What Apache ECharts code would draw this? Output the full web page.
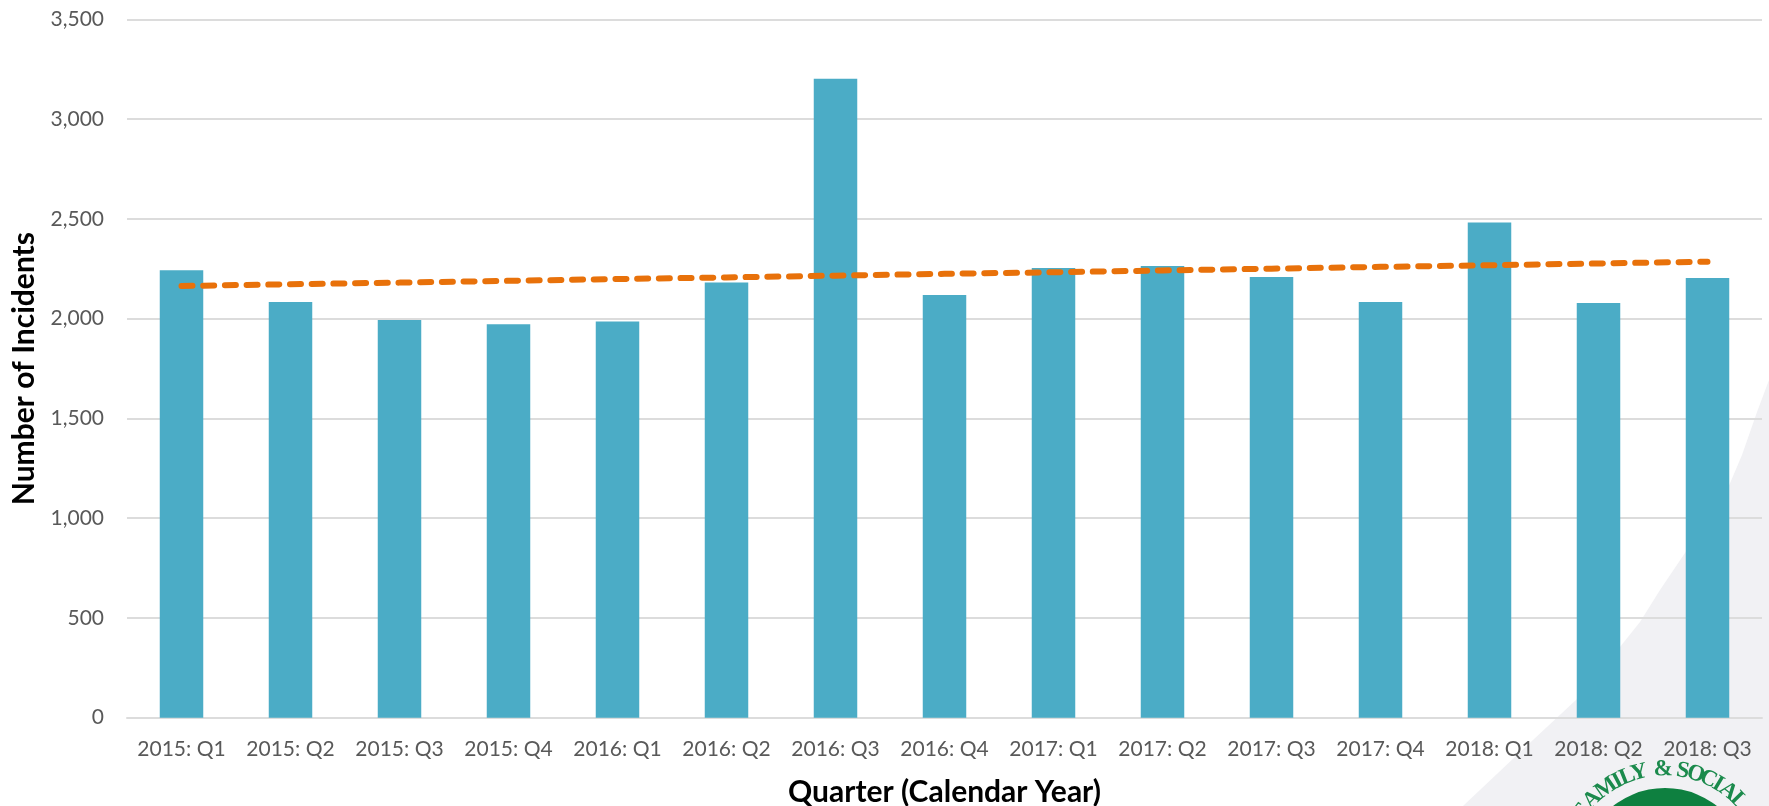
<!DOCTYPE html>
<html>
<head>
<meta charset="utf-8">
<style>html,body{margin:0;padding:0;background:#fff}#c{width:1769px;height:806px}</style>
<script src="https://cdn.jsdelivr.net/npm/echarts@6/dist/echarts.min.js"></script>
</head>
<body>
<div id="c"></div>
<script>
const quarters = ['2015: Q1','2015: Q2','2015: Q3','2015: Q4','2016: Q1','2016: Q2','2016: Q3','2016: Q4','2017: Q1','2017: Q2','2017: Q3','2017: Q4','2018: Q1','2018: Q2','2018: Q3'];
const incidents = [2243,2084,1994,1972,1986,2182,3203,2119,2254,2264,2209,2084,2483,2079,2204];
const trend = [2164,2173,2181,2190,2199,2207,2216,2225,2233,2242,2251,2260,2268,2277,2286];
const sealLetters = ['F','A','M','I','L','Y','&','S','O','C','I','A','L'];
const sealAngles = [-54,-45,-35,-27.5,-21.5,-14.5,-1,10,17.5,25,31,38,46];

const fontFamily = 'Lato, "Open Sans", sans-serif';
const green = '#1B8A4C';
const cx = 1665, cy = 872, ringR = 91;

const seal = sealLetters.map((ch, i) => {
  const a = sealAngles[i] * Math.PI / 180;
  return {
    type: 'text', z: -5, silent: true,
    x: cx + ringR * Math.sin(a), y: cy - ringR * Math.cos(a),
    rotation: -a,
    style: { text: ch, fill: green, font: 'bold 23px "Liberation Serif", serif', align: 'center', verticalAlign: 'bottom' }
  };
});

const chart = echarts.init(document.getElementById('c'), null, { renderer: 'canvas' });
chart.setOption({
  animation: false,
  backgroundColor: '#ffffff',
  grid: { left: 127, right: 7, top: 19.5, bottom: 88.3, containLabel: false, outerBoundsMode: 'none' },
  graphic: [
    { type: 'polygon', z: -10, silent: true,
      shape: { points: [[1769,380],[1757,412],[1742,455],[1725,495],[1707,525],[1687,550],[1660,590],[1640,622],[1620,647],[1600,672],[1576,700],[1533,740],[1463,806],[1769,806]] },
      style: { fill: '#F1F1F4' } },
    { type: 'circle', z: -5, silent: true, shape: { cx: cx, cy: cy, r: 84 }, style: { fill: '#0E8040' } },
    ...seal
  ],
  xAxis: {
    type: 'category', data: quarters,
    name: 'Quarter (Calendar Year)', nameLocation: 'middle', nameGap: 60,
    nameTextStyle: { fontFamily, fontSize: 30, fontWeight: 'bold', color: '#000000' },
    axisTick: { show: false },
    axisLine: { lineStyle: { color: '#DCDCDC', width: 2 } },
    axisLabel: { fontFamily, fontSize: 21, color: '#595959', margin: 21, interval: 0 }
  },
  yAxis: {
    type: 'value', min: 0, max: 3500, interval: 500,
    name: 'Number of Incidents', nameLocation: 'middle', nameGap: 87,
    nameTextStyle: { fontFamily, fontSize: 30, fontWeight: 'bold', color: '#000000' },
    axisLine: { show: false }, axisTick: { show: false },
    axisLabel: { fontFamily, fontSize: 21, color: '#595959', margin: 23,
      formatter: v => v.toLocaleString('en-US') },
    splitLine: { lineStyle: { color: '#DCDCDC', width: 2 } }
  },
  series: [
    { type: 'bar', data: incidents, barWidth: 43.5, itemStyle: { color: '#4BACC6' }, z: 2 },
    { type: 'line', data: trend, symbol: 'none', z: 3,
      lineStyle: { color: '#E8710A', width: 6, type: [11, 10.7], cap: 'round' } }
  ]
});
</script>
</body>
</html>
